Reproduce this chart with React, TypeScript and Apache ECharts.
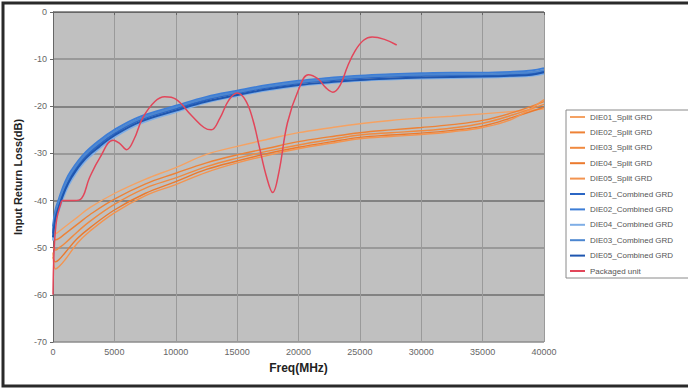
import React, { useEffect, useRef } from "react";
import * as echarts from "echarts";

// ---- data ----
const xTicks = [0, 5000, 10000, 15000, 20000, 25000, 30000, 35000, 40000];
const yTicks = [0, -10, -20, -30, -40, -50, -60, -70];

const splitFreq = [0, 200, 500, 1000, 2000, 3000, 5000, 7500, 10000, 12500, 15000, 17500, 20000, 22500, 25000, 27500, 30000, 32500, 35000, 37500, 40000];
const split01 = [-47, -47, -46.5, -45.5, -43.5, -41.5, -38.5, -35.5, -33, -30.2, -28.5, -27, -25.6, -24.6, -23.7, -23, -22.5, -22.1, -21.6, -21.1, -20.6];
const split02 = [-48, -48.3, -48, -47, -45, -43, -39.7, -36.5, -34.2, -32, -30.3, -28.9, -27.5, -26.5, -25.6, -25, -24.5, -23.9, -23, -21.3, -19];
const split03 = [-50, -50.5, -50, -49, -46.6, -44.4, -40.8, -37.4, -35.2, -32.8, -31, -29.5, -28.2, -27.1, -26.1, -25.6, -25.2, -24.6, -23.6, -21.8, -19.6];
const split04 = [-52, -53, -52.5, -51, -48, -45.8, -42, -38.5, -36, -33.4, -31.6, -30, -28.7, -27.6, -26.6, -26.1, -25.7, -25.1, -24.2, -22.3, -20.2];
const split05 = [-51, -54.5, -54, -52.5, -49, -46.5, -42.6, -39, -36.6, -34, -32, -30.4, -29, -27.9, -26.9, -26.4, -26, -25.4, -24.5, -22.6, -18.6];

const combFreq = [0, 200, 500, 1000, 1500, 2500, 3800, 5000, 7000, 10000, 12500, 15000, 17500, 20000, 22500, 25000, 27500, 30000, 32500, 35000, 37500, 39000, 40000];
const comb01 = [-47, -43, -40.5, -37, -34.5, -31, -28, -25.8, -23, -20.5, -18.6, -17.2, -16, -15.1, -14.5, -14, -13.7, -13.5, -13.4, -13.4, -13.2, -13, -12.5];
const comb02 = [-45.5, -42, -39.5, -36, -33.6, -30.2, -27.2, -25, -22.3, -19.9, -18, -16.7, -15.5, -14.6, -14, -13.5, -13.2, -13, -12.9, -12.9, -12.7, -12.4, -11.9];
const comb04 = [-48.5, -44.5, -41.8, -38.3, -35.7, -32, -28.9, -26.6, -23.8, -21.2, -19.2, -17.8, -16.6, -15.7, -15.1, -14.6, -14.3, -14.1, -14, -13.9, -13.7, -13.5, -13.1];
const comb03 = [-46.5, -42.6, -40, -36.6, -34.1, -30.6, -27.6, -25.4, -22.7, -20.2, -18.3, -17, -15.8, -14.9, -14.3, -13.8, -13.5, -13.3, -13.2, -13.2, -13, -12.8, -12.3];
const comb05 = [-47.8, -43.8, -41.2, -37.7, -35.1, -31.5, -28.5, -26.2, -23.4, -20.9, -19, -17.6, -16.4, -15.5, -14.9, -14.4, -14.1, -13.9, -13.8, -13.7, -13.5, -13.3, -12.8];

const pkgFreq = [0, 100, 300, 600, 800, 1500, 2200, 3000, 3800, 4900, 5400, 6000, 6600, 7300, 8300, 9100, 10000, 11300, 12300, 12900, 13600, 14300, 15000, 15700, 16300, 16800, 17400, 17900, 18400, 19100, 20000, 20800, 21600, 22200, 22800, 23400, 24000, 24600, 25300, 26000, 27000, 28000];
const pkgValues = [-60, -50, -44, -41, -40, -40, -39.8, -35, -31, -27.2, -27.8, -29.2, -27, -22.5, -19, -18, -18.5, -22, -24.5, -25, -22.5, -18.8, -17.2, -18.8, -23, -28.5, -35, -38.3, -34, -23.5, -16.5, -13.3, -14.2, -16, -17, -15.5, -11.5, -8.3, -6, -5.3, -5.8, -7];

const seriesNames = [
  "DIE01_Split GRD",
  "DIE02_Split GRD",
  "DIE03_Split GRD",
  "DIE04_Split GRD",
  "DIE05_Split GRD",
  "DIE01_Combined GRD",
  "DIE02_Combined GRD",
  "DIE04_Combined GRD",
  "DIE03_Combined GRD",
  "DIE05_Combined GRD",
  "Packaged unit",
];

const zip = (xs: number[], ys: number[]) => xs.map((x, i) => [x, ys[i]]);

export default function App() {
  const ref = useRef<HTMLDivElement>(null);
  useEffect(() => {
    if (!ref.current) return;
    const chart = echarts.init(ref.current, null, { renderer: "svg" });
    const font = "Liberation Sans, Arial, sans-serif";
    const mk = (name: string, data: number[][], color: string, width: number, z = 2) => ({
      name,
      type: "line",
      data,
      smooth: 0.4,
      showSymbol: false,
      symbol: "none",
      z,
      lineStyle: { color, width },
      itemStyle: { color },
    });
    const series = [
      mk(seriesNames[0], zip(splitFreq, split01), "#F5A263", 1.4),
      mk(seriesNames[1], zip(splitFreq, split02), "#EE8236", 1.4),
      mk(seriesNames[2], zip(splitFreq, split03), "#F08A40", 1.4),
      mk(seriesNames[3], zip(splitFreq, split04), "#EB7A2E", 1.4),
      mk(seriesNames[4], zip(splitFreq, split05), "#F39450", 1.4),
      mk(seriesNames[5], zip(combFreq, comb01), "#2B66C4", 2, 3),
      mk(seriesNames[6], zip(combFreq, comb02), "#3D7DD6", 2, 3),
      mk(seriesNames[7], zip(combFreq, comb04), "#7FAEE6", 2, 3),
      mk(seriesNames[8], zip(combFreq, comb03), "#4C86D0", 2, 3),
      mk(seriesNames[9], zip(combFreq, comb05), "#1E56B0", 2, 3),
      mk(seriesNames[10], zip(pkgFreq, pkgValues), "#E2465A", 1.5, 4),
    ];
    chart.setOption({
      animation: false,
      backgroundColor: "#ffffff",
      textStyle: { fontFamily: font },
      grid: {
        left: 53,
        right: 144,
        top: 12,
        bottom: 47,
        show: true,
        backgroundColor: "#C0C0C0",
        borderWidth: 0,
      },
      legend: {
        orient: "vertical",
        left: 566,
        top: 110,
        padding: [2, 60, 2, 4],
        itemGap: 5.4,
        itemWidth: 15,
        itemHeight: 2,
        icon: "rect",
        selectedMode: false,
        backgroundColor: "#ffffff",
        borderColor: "#8a8a8a",
        borderWidth: 1,
        data: seriesNames,
        textStyle: { fontSize: 8, color: "#555", lineHeight: 10, fontFamily: font },
      },
      xAxis: {
        type: "value",
        min: xTicks[0],
        max: xTicks[xTicks.length - 1],
        interval: 5000,
        name: "Freq(MHz)",
        nameLocation: "middle",
        nameGap: 20,
        nameTextStyle: { fontSize: 12, fontWeight: "bold", color: "#222", fontFamily: font },
        axisLine: { show: true, lineStyle: { color: "#666", width: 1 } },
        axisTick: { show: true, length: 3, lineStyle: { color: "#666" } },
        axisLabel: {
          fontSize: 9,
          color: "#666",
          margin: 5,
          formatter: (v: number) => String(v),
        },
        splitLine: { show: true, lineStyle: { color: "#9a9a9a", width: 1 } },
      },
      yAxis: {
        type: "value",
        min: yTicks[yTicks.length - 1],
        max: yTicks[0],
        interval: 10,
        name: "Input Return Loss(dB)",
        nameLocation: "middle",
        nameGap: 26,
        nameTextStyle: { fontSize: 11, fontWeight: "bold", color: "#222", fontFamily: font },
        axisLine: { show: true, lineStyle: { color: "#666", width: 1 } },
        axisTick: { show: true, length: 3, lineStyle: { color: "#666" } },
        axisLabel: { fontSize: 9, color: "#666", margin: 6 },
        splitLine: { show: true, lineStyle: { color: ["#8c8c8c", "#6e6e6e"], width: 1.5 } },
      },
      graphic: [
        {
          type: "rect",
          z: 100,
          silent: true,
          shape: { x: 3, y: 3, width: 720, height: 383 },
          style: { fill: "none", stroke: "#2a2a2a", lineWidth: 3 },
        },
      ],
      series,
    });
    return () => chart.dispose();
  }, []);
  return (
    <div
      ref={ref}
      style={{ position: "fixed", left: 0, top: 0, width: 688, height: 389 }}
    />
  );
}
